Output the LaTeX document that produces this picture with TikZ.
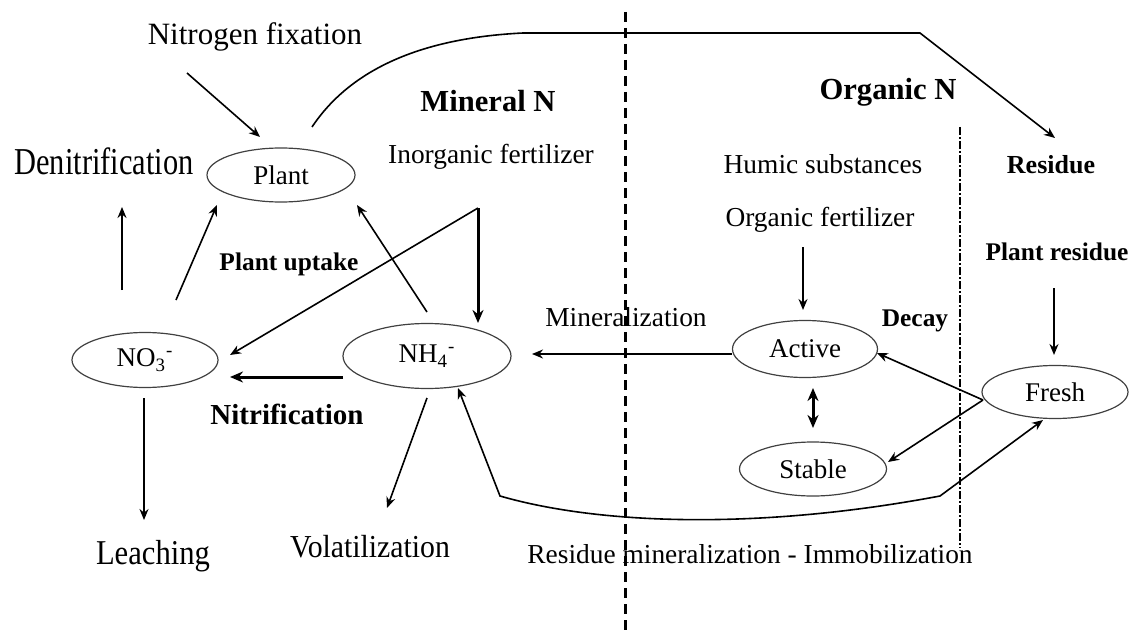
\documentclass[tikz,border=0pt]{standalone}
\usepackage{fontspec}
\setmainfont{Liberation Serif}
\usetikzlibrary{arrows.meta,shapes.geometric}
\begin{document}
\begin{tikzpicture}[x=0.5pt,y=-0.5pt,
  lbl/.style={inner sep=0pt, anchor=base},
  fa/.style={font=\fontsize{15.5}{18}\selectfont},
  fb/.style={font=\fontsize{13.7}{16}\selectfont},
  fbold/.style={font=\fontsize{12.7}{15}\selectfont\bfseries},
  fbig/.style={font=\fontsize{15.3}{18}\selectfont\bfseries},
  ell/.style={ellipse, draw=black!75, line width=0.6pt, inner sep=0pt, font=\fontsize{13.5}{16}\selectfont},
  arr/.style={line width=0.8pt, -{Stealth[length=5.5pt,width=4.5pt]}},
  tarr/.style={line width=1.5pt, -{Stealth[length=6.5pt,width=5.5pt]}},
  dsep/.style={line width=1.5pt, dash pattern=on 5pt off 3pt},
  dsep2/.style={line width=1pt, dash pattern=on 4pt off 1pt on 1pt off 1pt},
]
\useasboundingbox (0,0) rectangle (1135,631);

% ellipses
\node[ell, minimum width=74pt, minimum height=27pt] (plant) at (281,175) {Plant};
\node[ell, minimum width=73pt, minimum height=27.5pt] (no3) at (145,360) {NO\textsubscript{3}\textsuperscript{-}};
\node[ell, minimum width=84pt, minimum height=32.5pt] (nh4) at (427,356) {NH\textsubscript{4}\textsuperscript{-}};
\node[ell, minimum width=72.5pt, minimum height=28.5pt] (active) at (805,349) {Active};
\node[ell, minimum width=73.5pt, minimum height=27pt] (stable) at (813,469) {Stable};
\node[ell, minimum width=73pt, minimum height=26.5pt] (fresh) at (1055,392) {Fresh};

% labels
\node[lbl, fa] (nfix) at (255,45) {Nitrogen fixation};
\node[lbl] (denit) at (104,174) {\scalebox{0.8}[1]{\fontsize{19}{22}\selectfont Denitrification}};
\node[lbl, fbig] (minN) at (488,112) {Mineral N};
\node[lbl, fb] (inorg) at (491,163) {Inorganic fertilizer};
\node[lbl, fbig] (orgN) at (888,100) {Organic N};
\node[lbl, fb] (humic) at (823,173) {Humic substances};
\node[lbl, fb] (orgf) at (820,226) {Organic fertilizer};
\node[lbl, font=\fontsize{13}{15}\selectfont\bfseries] (resid) at (1051,173) {Residue};
\node[lbl, fbold] (pres) at (1057,260) {Plant residue};
\node[lbl, fbold] (decay) at (915,326) {Decay};
\node[lbl, fbold] (uptake) at (289,270) {Plant uptake};
\node[lbl, font=\fontsize{14.5}{17}\selectfont\bfseries] (nitr) at (287,424) {Nitrification};
\node[lbl, fb] (minz) at (626,326) {Mineralization};
\node[lbl] (volat) at (370,557) {\scalebox{0.93}[1]{\fontsize{16}{19}\selectfont Volatilization}};
\node[lbl] (leach) at (153,564) {\scalebox{0.88}[1]{\fontsize{17.4}{20}\selectfont Leaching}};
\node[lbl, fb] (resmin) at (750,563) {Residue mineralization - Immobilization};

% separators
\coordinate (sepTop) at (625,12);
\coordinate (sepBot) at (625,631);
\draw[dsep] (sepTop) -- (sepBot);
\coordinate (sep2Top) at (960,127);
\coordinate (sep2Bot) at (960,548);
\draw[dsep2] (sep2Top) -- (sep2Bot);

% connector end points
\coordinate (nfS) at (187,73);
\coordinate (nfE) at (260,137);
\coordinate (plTop) at (312,127);
\coordinate (topA) at (523,33);
\coordinate (topB) at (920,33);
\coordinate (resE) at (1055,138);
\coordinate (dnS) at (122,290);
\coordinate (dnE) at (122,207);
\coordinate (upS1) at (176,300);
\coordinate (upE1) at (217,205);
\coordinate (upS2) at (427,312);
\coordinate (upE2) at (357,205);
\coordinate (apex) at (478,208);
\coordinate (ifE1) at (230,355);
\coordinate (ifE2) at (478,323);
\coordinate (nitS) at (343,377);
\coordinate (nitE) at (230,377);
\coordinate (lchS) at (144,398);
\coordinate (lchE) at (144,520);
\coordinate (volS) at (427,398);
\coordinate (volE) at (387,508);
\coordinate (minS) at (732,354);
\coordinate (minE) at (532,354);
\coordinate (ofS) at (803,247);
\coordinate (ofE) at (803,310);
\coordinate (prS) at (1054,288);
\coordinate (prE) at (1054,355);
\coordinate (frS) at (983,400);
\coordinate (frA) at (877,353);
\coordinate (frB) at (888,462);
\coordinate (asA) at (813,388);
\coordinate (asB) at (813,428);
\coordinate (rmA) at (458,388);
\coordinate (rmB) at (500,496);
\coordinate (rmC) at (940,496);
\coordinate (rmD) at (1043,420);

% connectors
\draw[arr] (nfS) -- (nfE);
\draw[arr] (plTop) .. controls (350,70) and (420,38) .. (topA) -- (topB) -- (resE);
\draw[arr] (dnS) -- (dnE);
\draw[arr] (upS1) -- (upE1);
\draw[arr] (upS2) -- (upE2);
\draw[arr] (apex) -- (ifE1);
\draw[tarr] (apex) -- (ifE2);
\draw[tarr] (nitS) -- (nitE);
\draw[arr] (lchS) -- (lchE);
\draw[arr] (volS) -- (volE);
\draw[arr] (minS) -- (minE);
\draw[arr] (ofS) -- (ofE);
\draw[arr] (prS) -- (prE);
\draw[arr] (frS) -- (frA);
\draw[arr] (frS) -- (frB);
\draw[line width=1.5pt, {Stealth[length=6.5pt,width=5.5pt]}-{Stealth[length=6.5pt,width=5.5pt]}] (asA) -- (asB);
\draw[line width=0.8pt, {Stealth[length=5.5pt,width=4.5pt]}-{Stealth[length=5.5pt,width=4.5pt]}] (rmA) -- (rmB) .. controls (600,525) and (760,530) .. (rmC) -- (rmD);
\end{tikzpicture}
\end{document}
